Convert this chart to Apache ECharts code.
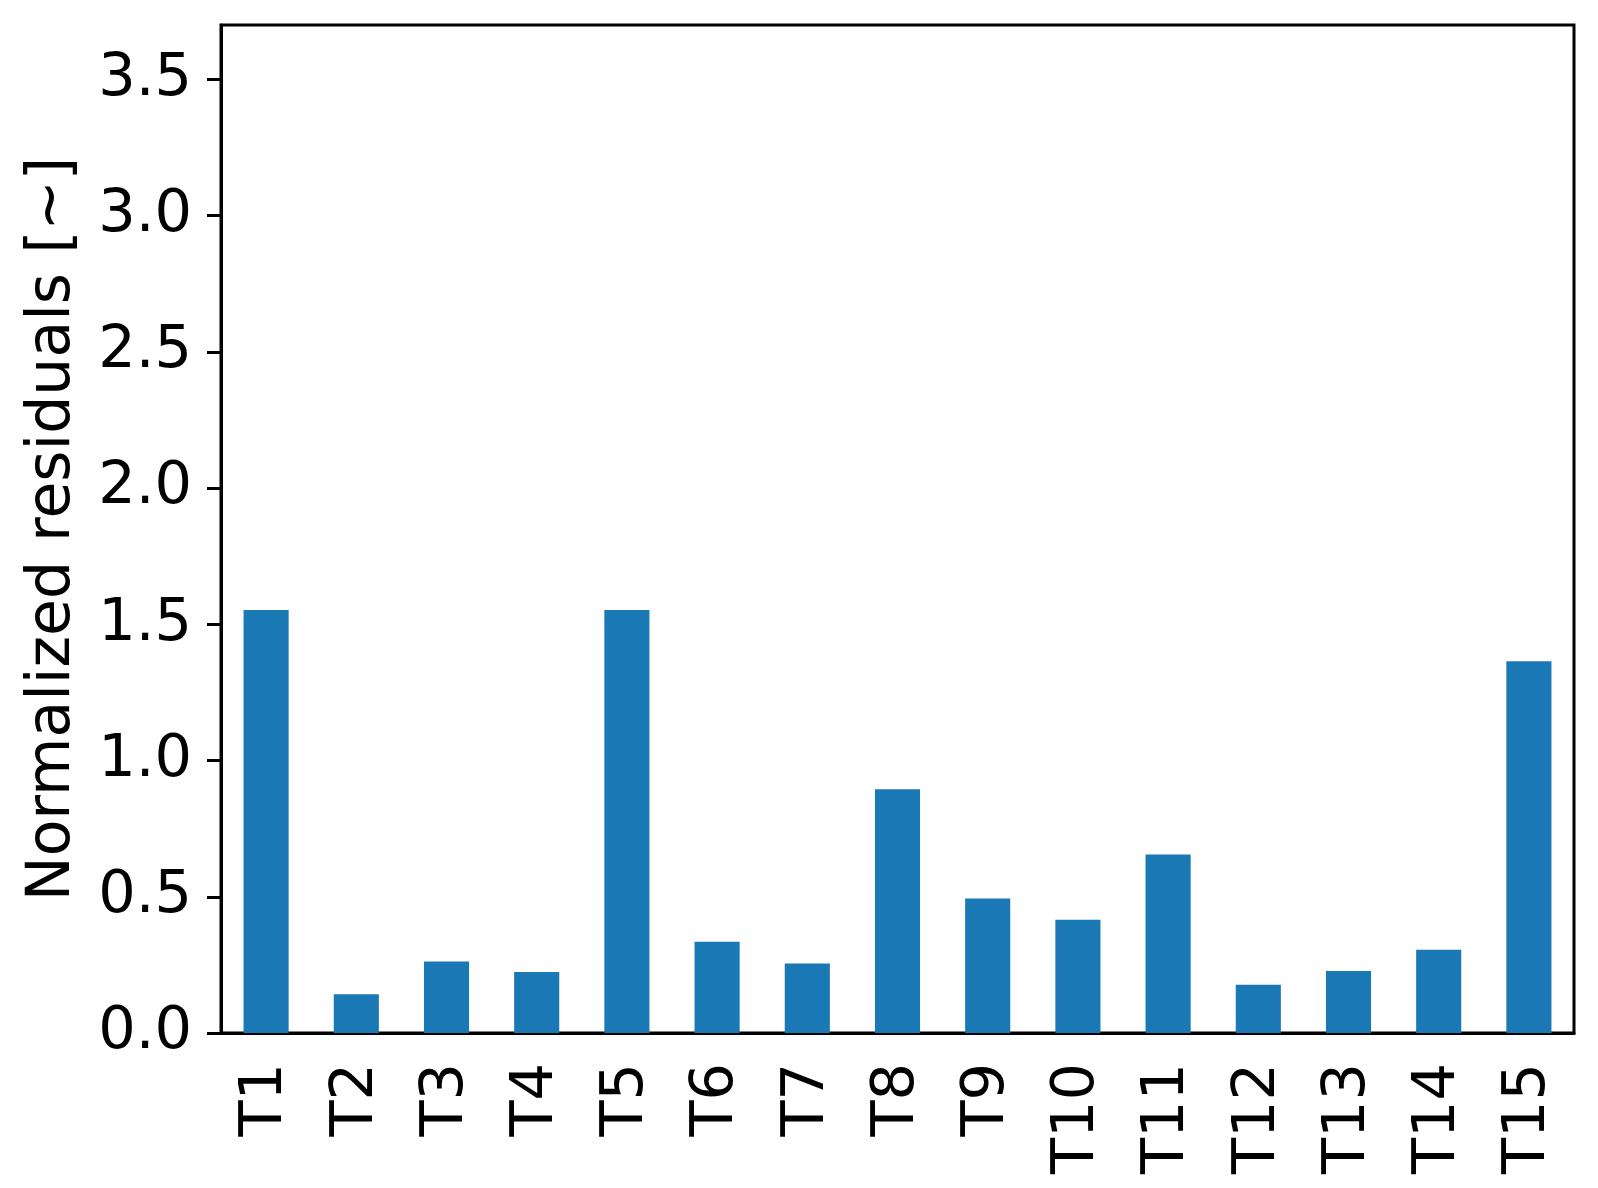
<!DOCTYPE html>
<html>
<head>
<meta charset="utf-8">
<script src="https://cdn.jsdelivr.net/npm/echarts@6/dist/echarts.min.js"></script>
<style>
  html, body { margin: 0; padding: 0; background: #fff; }
  #main { width: 1598px; height: 1188px; }
</style>
</head>
<body>
<div id="main"></div>
<script>
// data
const categories = ['T1', 'T2', 'T3', 'T4', 'T5', 'T6', 'T7', 'T8', 'T9', 'T10', 'T11', 'T12', 'T13', 'T14', 'T15'];
const residuals = [1.553, 0.142, 0.262, 0.224, 1.553, 0.335, 0.255, 0.895, 0.494, 0.416, 0.655, 0.177, 0.228, 0.306, 1.365];
const yTicks = [0, 0.5, 1.0, 1.5, 2.0, 2.5, 3.0, 3.5];

const font = 'DejaVu Sans';

let chart = echarts.init(document.getElementById('main'));

chart.setOption({
  animation: false,
  grid: {
    left: 221,
    right: 24,
    top: 25,
    bottom: 155,
    show: true,
    borderColor: '#000',
    borderWidth: 3,
    backgroundColor: 'transparent'
  },
  xAxis: {
    type: 'category',
    data: categories,
    axisLine: {
      lineStyle: {color: '#000', width: 3}
    },
    axisTick: {
      alignWithLabel: true,
      length: 14,
      lineStyle: {color: '#000', width: 3}
    },
    axisLabel: {
      rotate: 90,
      margin: 30,
      color: '#000',
      fontFamily: font,
      fontSize: 59,
      interval: 0
    }
  },
  yAxis: {
    type: 'value',
    min: 0,
    max: 3.7,
    name: 'Normalized residuals [~]',
    nameLocation: 'middle',
    nameGap: 138,
    nameTextStyle: {
      color: '#000',
      fontFamily: font,
      fontSize: 60
    },
    splitLine: {show: false},
    axisLine: {
      show: true,
      lineStyle: {color: '#000', width: 3}
    },
    axisTick: {
      show: true,
      length: 14,
      customValues: yTicks,
      lineStyle: {color: '#000', width: 3}
    },
    axisLabel: {
      margin: 29,
      color: '#000',
      fontFamily: font,
      fontSize: 59,
      customValues: yTicks,
      formatter: function (v) {
        return v.toFixed(1);
      }
    }
  },
  series: [
    {
      type: 'bar',
      data: residuals,
      barCategoryGap: '50%',
      itemStyle: {color: '#1a78b5'}
    }
  ]
});
</script>
</body>
</html>
